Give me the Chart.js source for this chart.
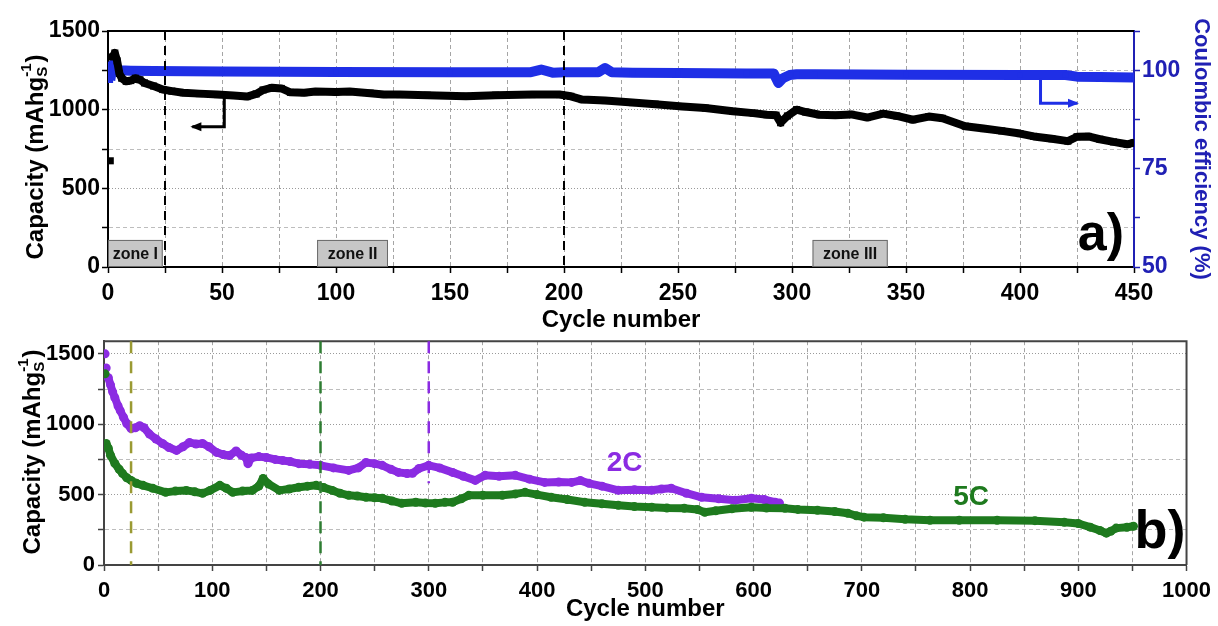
<!DOCTYPE html>
<html>
<head>
<meta charset="utf-8">
<script src="https://cdn.jsdelivr.net/npm/chart.js@4.4.0/dist/chart.umd.min.js"></script>
<style>
html, body { margin: 0; padding: 0; background: #fff; }
#wrap { position: relative; width: 1218px; height: 626px; overflow: hidden; }
#chartA { position: absolute; left: 0; top: 0; }
#chartB { position: absolute; left: 0; top: 325px; }
</style>
</head>
<body>
<div id="wrap">
  <canvas id="chartA" width="1218" height="338"></canvas>
  <canvas id="chartB" width="1218" height="301"></canvas>
</div>
<script>
// ---- panel a) : capacity + coulombic efficiency, 450 cycles ----
const cycA = [1, 2, 3, 4, 5, 6, 8, 10, 12, 14, 16, 20, 24, 28, 33, 40, 48, 55, 61, 65, 68, 72, 76, 80, 86, 91,
  100, 106, 115, 121, 128, 140, 157, 170, 186, 198, 203, 208, 218, 230, 240, 252, 262, 274, 283, 289, 293, 295,
  298, 302, 306, 312, 319, 326, 333, 340, 346, 353, 360, 366, 376, 384, 392, 400, 406, 414, 421, 425, 430, 435,
  441, 447, 450];
const capA = [675, 1335, 1360, 1310, 1230, 1200, 1180, 1185, 1200, 1190, 1170, 1150, 1128, 1118, 1108, 1102, 1096,
  1090, 1083, 1100, 1125, 1140, 1135, 1110, 1108, 1115, 1112, 1115, 1105, 1096, 1096, 1092, 1085, 1092, 1096, 1096,
  1085, 1064, 1058, 1045, 1035, 1020, 1010, 990, 978, 968, 965, 917, 960, 1000, 985, 968, 965, 970, 950, 975, 960,
  936, 956, 945, 895, 880, 865, 848, 830, 815, 800, 828, 830, 812, 795, 780, 790];

const cycCE = [1, 2, 3, 5, 10, 20, 50, 100, 150, 185, 190, 195, 200, 215, 218, 221, 230, 250, 280, 292, 294, 296,
  299, 302, 310, 350, 400, 420, 425, 435, 450];
const ceA = [97.5, 101.5, 100.5, 100, 99.9, 99.8, 99.7, 99.6, 99.5, 99.5, 100.2, 99.4, 99.5, 99.5, 100.6, 99.5,
  99.4, 99.3, 99.2, 99.2, 96.8, 98, 98.8, 99.0, 99.0, 98.9, 98.8, 98.8, 98.4, 98.3, 98.2];

// ---- panel b) : 2C and 5C long cycling ----
const cyc2C = [1, 2, 4, 6, 8, 10, 13, 15, 18, 21, 25, 29, 33, 37, 42, 48, 54, 60, 67, 73, 79, 85, 91, 97, 104, 110,
  116, 122, 127, 131, 133, 136, 143, 150, 158, 165, 172, 180, 190, 200, 212, 226, 235, 242, 250, 257, 265, 272, 280,
  285, 291, 300, 310, 322, 332, 343, 352, 365, 380, 393, 407, 420, 432, 440, 448, 460, 475, 490, 506, 515, 524, 538,
  552, 568, 583, 598, 610, 620, 624];
const cap2C = [1500, 1400, 1330, 1280, 1230, 1189, 1130, 1097, 1050, 1005, 969, 975, 990, 975, 930, 895, 863, 835,
  814, 840, 870, 860, 863, 840, 800, 785, 778, 810, 780, 764, 720, 760, 770, 764, 750, 743, 735, 720, 715, 708, 690,
  672, 690, 728, 720, 708, 680, 658, 650, 651, 686, 708, 690, 658, 630, 601, 637, 630, 637, 610, 587, 590, 587, 600,
  580, 560, 531, 535, 531, 540, 545, 510, 481, 470, 460, 474, 465, 446, 440];

const cyc5C = [1, 2, 4, 6, 10, 14, 17, 21, 25, 30, 36, 45, 57, 66, 76, 84, 91, 98, 107, 113, 119, 128, 137, 143, 147,
  152, 162, 171, 180, 188, 196, 203, 211, 218, 226, 234, 242, 250, 257, 266, 275, 288, 297, 306, 315, 322, 330, 337,
  350, 368, 380, 389, 400, 413, 428, 444, 460, 475, 490, 506, 520, 536, 548, 555, 565, 580, 598, 612, 629, 641, 659,
  675, 687, 695, 702, 720, 740, 763, 790, 825, 860, 887, 900, 911, 920, 926, 930, 935, 945, 951];
const cap5C = [1358, 863, 830, 780, 722, 680, 651, 620, 601, 580, 566, 545, 516, 525, 530, 520, 509, 530, 566, 545,
  516, 525, 530, 560, 615, 575, 530, 540, 552, 560, 566, 550, 530, 510, 495, 490, 481, 478, 474, 455, 438, 446, 440,
  438, 445, 446, 470, 495, 495, 495, 505, 516, 500, 481, 465, 446, 435, 424, 415, 410, 405, 403, 395, 375, 385, 400,
  410, 405, 403, 395, 389, 380, 368, 350, 340, 335, 325, 318, 318, 318, 315, 304, 295, 269, 245, 226, 240, 262, 268,
  275];

const xy = (xs, ys) => xs.map((x, i) => ({ x: x, y: ys[i] }));
const FONT = '"Liberation Sans", Arial, sans-serif';
const BLUE = '#1f2fe6';
const BLUE_TXT = '#2020b4';
const PURPLE = '#8b2be2';
const GREEN = '#1e7a1e';

// dotted major / dashed minor grid
function gridColor(major) {
  return c => (c.tick && c.tick.value % major === 0) ? '#9a9a9a' : '#bdbdbd';
}
function gridDash(major) {
  return c => (c.tick && c.tick.value % major === 0) ? [1, 2] : [4, 3];
}

// left axis title with subscript S and superscript -1
function drawCapTitle(ctx, cx, cy, size) {
  const main = 'bold ' + size + 'px ' + FONT;
  const small = 'bold ' + Math.round(size * 0.62) + 'px ' + FONT;
  ctx.save();
  ctx.translate(cx, cy);
  ctx.rotate(-Math.PI / 2);
  ctx.font = main;
  const w1 = ctx.measureText('Capacity (mAhg').width;
  const w3 = ctx.measureText(')').width;
  ctx.font = small;
  const ws = Math.max(ctx.measureText('S').width, ctx.measureText('-1').width) + 1;
  const x0 = -(w1 + ws + w3) / 2;
  ctx.fillStyle = '#000';
  ctx.textAlign = 'left';
  ctx.textBaseline = 'middle';
  ctx.font = main;
  ctx.fillText('Capacity (mAhg', x0, 0);
  ctx.font = small;
  ctx.fillText('S', x0 + w1, size * 0.3);
  ctx.fillText('-1', x0 + w1, -size * 0.4);
  ctx.font = main;
  ctx.fillText(')', x0 + w1 + ws, 0);
  ctx.restore();
}

function drawArrow(ctx, pts, color) {
  ctx.save();
  ctx.strokeStyle = color;
  ctx.fillStyle = color;
  ctx.lineWidth = 3;
  ctx.beginPath();
  ctx.moveTo(pts[0][0], pts[0][1]);
  for (let i = 1; i < pts.length; i++) ctx.lineTo(pts[i][0], pts[i][1]);
  ctx.stroke();
  const [ax, ay] = pts[pts.length - 1];
  const [bx, by] = pts[pts.length - 2];
  const ang = Math.atan2(ay - by, ax - bx);
  ctx.translate(ax, ay);
  ctx.rotate(ang);
  ctx.beginPath();
  ctx.moveTo(2, 0);
  ctx.lineTo(-9, -4.5);
  ctx.lineTo(-9, 4.5);
  ctx.closePath();
  ctx.fill();
  ctx.restore();
}

function vLine(ctx, px, top, bottom, color, dash, width) {
  ctx.save();
  ctx.strokeStyle = color;
  ctx.lineWidth = width;
  ctx.setLineDash(dash);
  ctx.beginPath();
  ctx.moveTo(px, top);
  ctx.lineTo(px, bottom);
  ctx.stroke();
  ctx.restore();
}

const extrasA = {
  id: 'extrasA',
  afterDatasetsDraw(chart) {
    const { ctx, chartArea: a, scales: { x, y, yCE } } = chart;
    // frame top
    ctx.save();
    ctx.strokeStyle = '#000';
    ctx.lineWidth = 2;
    ctx.beginPath();
    ctx.moveTo(a.left, a.top);
    ctx.lineTo(a.right, a.top);
    ctx.stroke();
    ctx.restore();
    // zone borders
    [25, 200].forEach(v => vLine(ctx, x.getPixelForValue(v), a.top, a.bottom, '#000', [9, 6], 2));
    // zone boxes
    [['zone I', 0, 24], ['zone II', 91.7, 122.8], ['zone III', 309, 342]].forEach(([t, x1, x2]) => {
      const l = x.getPixelForValue(x1), r = x.getPixelForValue(x2);
      const tp = y.getPixelForValue(172), bt = a.bottom;
      ctx.save();
      ctx.fillStyle = '#c6c6c6';
      ctx.strokeStyle = '#6a6a6a';
      ctx.lineWidth = 1;
      ctx.fillRect(l, tp, r - l, bt - tp);
      ctx.strokeRect(l + 0.5, tp + 0.5, r - l - 1, bt - tp - 1);
      ctx.fillStyle = '#111';
      ctx.font = 'bold 16px ' + FONT;
      ctx.textAlign = 'center';
      ctx.textBaseline = 'middle';
      ctx.fillText(t, (l + r) / 2, (tp + bt) / 2 + 1);
      ctx.restore();
    });
    // arrows pointing to each axis
    drawArrow(ctx, [[x.getPixelForValue(51), y.getPixelForValue(1076)],
      [x.getPixelForValue(51), y.getPixelForValue(892)],
      [x.getPixelForValue(37), y.getPixelForValue(892)]], '#000');
    drawArrow(ctx, [[x.getPixelForValue(409), yCE.getPixelForValue(98)],
      [x.getPixelForValue(409), yCE.getPixelForValue(91.6)],
      [x.getPixelForValue(425), yCE.getPixelForValue(91.6)]], BLUE);
    // panel letter
    ctx.save();
    ctx.fillStyle = '#000';
    ctx.font = 'bold 52px ' + FONT;
    ctx.textAlign = 'right';
    ctx.textBaseline = 'alphabetic';
    ctx.fillText('a)', a.right - 10, a.bottom - 17);
    ctx.restore();
    drawCapTitle(ctx, 36, 157, 24);
  }
};

const extrasB = {
  id: 'extrasB',
  afterDatasetsDraw(chart) {
    const { ctx, chartArea: a, scales: { x, y } } = chart;
    ctx.save();
    ctx.strokeStyle = '#444';
    ctx.lineWidth = 2;
    ctx.beginPath();
    ctx.moveTo(a.left, a.top);
    ctx.lineTo(a.right, a.top);
    ctx.lineTo(a.right, a.bottom);
    ctx.stroke();
    ctx.restore();
    vLine(ctx, x.getPixelForValue(25), a.top, a.bottom, '#9a9a33', [12, 8], 2.5);
    vLine(ctx, x.getPixelForValue(200), a.top, a.bottom, '#2e7d32', [12, 8], 2.5);
    vLine(ctx, x.getPixelForValue(300), a.top, y.getPixelForValue(580), PURPLE, [12, 8], 2.5);
    ctx.save();
    ctx.font = 'bold 28px ' + FONT;
    ctx.textAlign = 'center';
    ctx.textBaseline = 'middle';
    ctx.fillStyle = PURPLE;
    ctx.fillText('2C', x.getPixelForValue(481), y.getPixelForValue(722));
    ctx.fillStyle = GREEN;
    ctx.fillText('5C', x.getPixelForValue(801), y.getPixelForValue(481));
    ctx.fillStyle = '#000';
    ctx.font = 'bold 54px ' + FONT;
    ctx.textAlign = 'right';
    ctx.textBaseline = 'alphabetic';
    ctx.fillText('b)', a.right - 1, a.bottom - 17);
    ctx.restore();
    drawCapTitle(ctx, 33, 127, 24);
  }
};

function tickFont(size) { return { family: FONT, size: size, weight: 'bold' }; }

new Chart(document.getElementById('chartA'), {
  type: 'scatter',
  data: {
    datasets: [
      {
        label: 'Capacity',
        data: xy(cycA, capA),
        yAxisID: 'y',
        showLine: true,
        borderColor: '#000',
        backgroundColor: '#000',
        borderWidth: 8,
        borderJoinStyle: 'round',
        pointStyle: 'rect',
        pointRadius: 5,
        pointBorderWidth: 0,
        segment: { borderColor: c => c.p0DataIndex === 0 ? 'rgba(0,0,0,0)' : undefined }
      },
      {
        label: 'Coulombic efficiency',
        data: xy(cycCE, ceA),
        yAxisID: 'yCE',
        showLine: true,
        borderColor: BLUE,
        backgroundColor: BLUE,
        borderWidth: 10,
        borderJoinStyle: 'round',
        pointStyle: 'rect',
        pointRadius: 4,
        pointBorderWidth: 0
      }
    ]
  },
  options: {
    responsive: false,
    animation: false,
    layout: { padding: { top: 31, left: 0, right: 0, bottom: 0 } },
    plugins: { legend: { display: false }, tooltip: { enabled: false } },
    scales: {
      x: {
        type: 'linear', min: 0, max: 450,
        ticks: { stepSize: 25, autoSkip: false, maxRotation: 0, padding: 7, color: '#000', font: tickFont(23),
          callback: v => v % 50 === 0 ? v : '' },
        grid: { color: '#a5a5a5', tickLength: 6, tickColor: '#000', tickWidth: 1.5 },
        border: { color: '#000', width: 2, dash: gridDash(50000) },
        title: { display: true, text: 'Cycle number', color: '#000', font: tickFont(24), padding: { top: 0, bottom: 3 } },
        afterFit: s => { s.height = 71; }
      },
      y: {
        position: 'left', min: 0, max: 1500,
        ticks: { stepSize: 250, padding: 2, color: '#000', font: tickFont(23),
          callback: v => v % 500 === 0 ? v : '' },
        grid: { color: gridColor(500), tickLength: 6, tickColor: '#000', tickWidth: 1.5 },
        border: { color: '#000', width: 2, dash: gridDash(500) },
        afterFit: s => { s.width = 108; }
      },
      yCE: {
        position: 'right', min: 50, max: 110,
        ticks: { stepSize: 12.5, padding: 2, color: BLUE_TXT, font: tickFont(23),
          callback: v => (v === 50 || v === 75 || v === 100) ? v : '' },
        grid: { drawOnChartArea: false, tickLength: 6, tickColor: BLUE_TXT, tickWidth: 1.5 },
        border: { color: BLUE_TXT, width: 2 },
        title: { display: true, text: 'Coulombic efficiency (%)', color: BLUE_TXT, font: tickFont(22), padding: { top: 4, bottom: 0 } },
        afterFit: s => { s.width = 84; }
      }
    }
  },
  plugins: [extrasA]
});

new Chart(document.getElementById('chartB'), {
  type: 'scatter',
  data: {
    datasets: [
      {
        label: '5C',
        data: xy(cyc5C, cap5C),
        showLine: true,
        borderColor: GREEN,
        backgroundColor: GREEN,
        borderWidth: 8,
        borderJoinStyle: 'round',
        pointRadius: 4.5,
        pointBorderWidth: 0,
        segment: { borderColor: c => c.p0DataIndex === 0 ? 'rgba(0,0,0,0)' : undefined }
      },
      {
        label: '2C',
        data: xy(cyc2C, cap2C),
        showLine: true,
        borderColor: PURPLE,
        backgroundColor: PURPLE,
        borderWidth: 8,
        borderJoinStyle: 'round',
        pointRadius: 4.5,
        pointBorderWidth: 0,
        segment: { borderColor: c => c.p0DataIndex < 2 ? 'rgba(0,0,0,0)' : undefined }
      }
    ]
  },
  options: {
    responsive: false,
    animation: false,
    layout: { padding: { top: 16, left: 0, right: 28, bottom: 0 } },
    plugins: { legend: { display: false }, tooltip: { enabled: false } },
    scales: {
      x: {
        type: 'linear', min: 0, max: 1000,
        ticks: { stepSize: 50, autoSkip: false, maxRotation: 0, padding: 7, color: '#000', font: tickFont(22),
          callback: v => v % 100 === 0 ? v : '' },
        grid: { color: '#a5a5a5', tickLength: 6, tickColor: '#444', tickWidth: 1.5 },
        border: { color: '#444', width: 2, dash: gridDash(50000) },
        title: { display: true, text: 'Cycle number', color: '#000', font: tickFont(24), padding: { top: 0, bottom: 2 } },
        afterFit: s => { s.height = 61; }
      },
      y: {
        min: 0, max: 1590,
        ticks: { stepSize: 250, includeBounds: false, padding: 3, color: '#000', font: tickFont(22),
          callback: v => v % 500 === 0 ? v : '' },
        grid: { color: gridColor(500), tickLength: 6, tickColor: '#444', tickWidth: 1.5 },
        border: { color: '#444', width: 2, dash: gridDash(500) },
        afterFit: s => { s.width = 104; }
      }
    }
  },
  plugins: [extrasB]
});
</script>
</body>
</html>
